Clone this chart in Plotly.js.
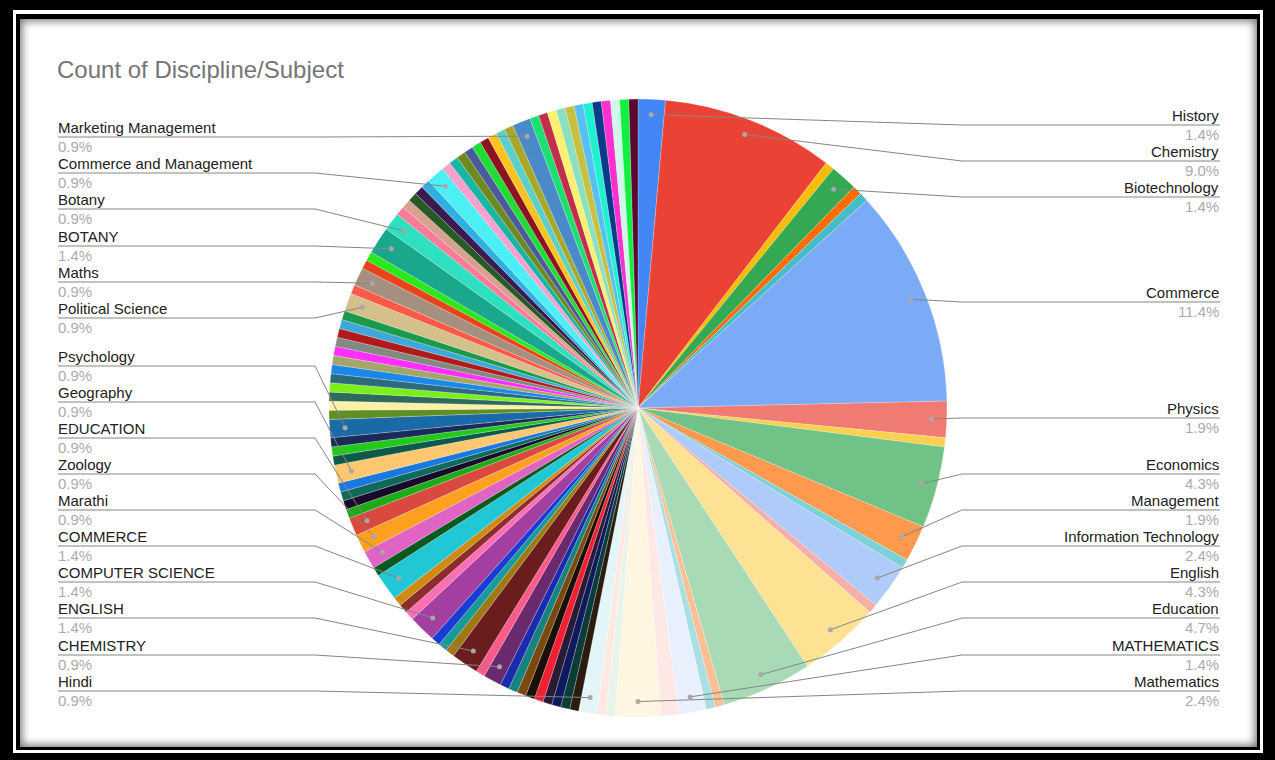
<!DOCTYPE html>
<html><head><meta charset="utf-8">
<script src="https://cdn.plot.ly/plotly-3.0.1.min.js"></script>
<style>
body{margin:0;background:#000;overflow:hidden;}
#f0{position:absolute;left:0;top:0;width:1275px;height:760px;background:#000;}
#f1{position:absolute;left:13px;top:10px;right:12px;bottom:7px;background:#fff;}
#f2{position:absolute;left:3px;top:4px;right:3px;bottom:3px;background:#000;}
#f3{position:absolute;left:4px;top:5px;right:3px;bottom:3px;background:#fff;box-shadow:inset 0 0 9px 2px rgba(0,0,0,0.55);}
#chart{position:absolute;left:0;top:0;width:1275px;height:760px;}
</style></head><body>
<div id="f0"><div id="f1"><div id="f2"><div id="f3"></div></div></div></div>
<div id="chart"></div>
<script>
// ---- data (clockwise from 12 o'clock) ----
const subjects = [
 "History","Chemistry","Subject 3","Biotechnology","Subject 5","Subject 6",
 "Commerce","Physics","Subject 9","Economics","Management","Subject 12",
 "Information Technology","Subject 14","English","Education","Subject 17","Subject 18",
 "MATHEMATICS","Subject 20","Mathematics","Subject 22","Subject 23","Hindi",
 "Subject 25","Subject 26","Subject 27","Subject 28","Subject 29","Subject 30","Subject 31","Subject 32","Subject 33",
 "CHEMISTRY","Subject 35","ENGLISH","Subject 37","Subject 38","Subject 39",
 "COMPUTER SCIENCE","Subject 41","Subject 42","Subject 43","COMMERCE","Subject 45",
 "Marathi","Zoology","EDUCATION","Subject 49","Subject 50","Subject 51","Subject 52",
 "Geography","Subject 54","Subject 55","Subject 56","Psychology",
 "Subject 58","Subject 59","Subject 60","Subject 61","Subject 62","Subject 63","Subject 64","Subject 65","Subject 66","Subject 67","Subject 68","Subject 69",
 "Political Science","Subject 71","Maths","Subject 73","Subject 74","BOTANY","Botany",
 "Subject 77","Subject 78","Subject 79","Subject 80","Subject 81","Commerce and Management",
 "Subject 83","Subject 84","Subject 85","Subject 86","Subject 87","Subject 88","Subject 89","Subject 90","Subject 91",
 "Marketing Management",
 "Subject 93","Subject 94","Subject 95","Subject 96","Subject 97","Subject 98","Subject 99","Subject 100","Subject 101","Subject 102","Subject 103","Subject 104"
];
const counts = [
 3,19,1,3,1,1,
 24,4,1,9,4,1,
 5,1,9,10,1,1,
 3,2,5,1,1,2,
 1,1,1,1,1,1,1,1,1,
 2,1,3,1,1,1,
 3,1,1,1,3,1,
 2,2,2,1,1,1,1,
 2,1,1,1,2,
 1,1,1,1,1,1,1,1,1,1,1,1,
 2,1,2,1,1,3,2,
 1,1,1,1,1,2,
 1,1,1,1,1,1,1,1,1,
 2,
 1,1,1,1,1,1,1,1,1,1,1,1
];
const sliceColors = [
 "#4285f4","#ea4335","#fbbc04","#34a853","#ff6d01","#46bdc6",
 "#7baaf7","#ef7b72","#fcd04f","#71c287","#ff994d","#7ed1d7",
 "#aecbfa","#f6aea9","#fde293","#a8dab5","#ffbf94","#a9dfe3",
 "#e8effd","#fde8e6","#fff6e2","#e6f4ea","#fde9e2","#e4f5f8",
 "#2b1d0e","#0c3b3a","#0d1b5e","#2a1a35","#f41f33","#1b0f0a","#7a4a0c","#17837f","#1a2bb0",
 "#6b2a6e","#ff5a8c","#6b1d1d","#a07812","#199a9a","#1a3cd6",
 "#a23fa0","#ff6fb4","#8b2d2d","#cf8a12","#22c7d6","#0a5a20",
 "#e064c4","#ffa020","#d9493f","#1faa18","#1a0a2a","#0f6a5a","#1a78e0",
 "#ffc870","#0d5a4a","#22c81a","#1a2a5a","#1a6aa8",
 "#5f8f23","#fff0a8","#2d6a5c","#7af01a","#2e6a7e","#1a88e8","#a3a56a","#ff30ff","#808a80","#b01a1a","#40a8d8","#1a9a4a",
 "#d5bf8a","#ff5a48","#a59080","#e8431a","#2ae81a","#1aa88c","#2ee0c0",
 "#ff7c98","#d8a090","#275a25","#3a1a50","#30b0e0","#4cf0f4",
 "#ffa0d0","#1ab5a5","#6e8a1e","#4a5a9a","#1fdc36","#8c1420","#ffc21e","#5ad0c8","#a8a828",
 "#4a8ac8",
 "#1ae070","#c0304a","#fff070","#8ae0c0","#c8c040","#58c0f0","#20f0d0","#0a3a8a","#ff30d0","#d0f8e8","#10f040","#5a0a30"
];
const rightLabels = ["History","Chemistry","Biotechnology","Commerce","Physics","Economics","Management","Information Technology","English","Education","MATHEMATICS","Mathematics"];
const leftLabels = ["Marketing Management","Commerce and Management","Botany","BOTANY","Maths","Political Science","Psychology","Geography","EDUCATION","Zoology","Marathi","COMMERCE","COMPUTER SCIENCE","ENGLISH","CHEMISTRY","Hindi"];
const titleText = "Count of Discipline/Subject";

// ---- layout geometry (pixels) ----
const W = 1275, H = 760;
const CX = 638, CY = 408, R = 309;
const rightLineY = [125,161,197,302,418,474,510,546,582,618,655,691];
const leftLineY  = [137,173,209,246,282,318,366,402,438,474,510,546,582,618,655,691];
const rightElbowX = 962, rightEndX = 1220, leftElbowX = 315, leftEndX = 58;

const total = counts.reduce((a,b)=>a+b,0);
const cum = []; let acc = 0; counts.forEach(c=>{cum.push(acc); acc+=c;});
const px = x => x / W, py = y => 1 - y / H;
function dotPos(name){
  const i = subjects.indexOf(name);
  const th = (cum[i] + counts[i]/2) / total * 2 * Math.PI;
  return [CX + 0.95*R*Math.sin(th), CY - 0.95*R*Math.cos(th)];
}
function pct(name){ const i = subjects.indexOf(name); return (counts[i]/total*100).toFixed(1) + "%"; }

const shapes = [], annotations = [];
const FONT = "Liberation Sans, Arial, sans-serif";
function addLabel(name, ly, side){
  const [dx, dy] = dotPos(name);
  const ex = side === "r" ? rightElbowX : leftElbowX;
  const tx = side === "r" ? rightEndX : leftEndX;
  const textX = side === "r" ? tx + 1 : tx - 2;
  shapes.push({type:"path", xref:"paper", yref:"paper", layer:"above",
    path:`M${px(dx)},${py(dy)} L${px(ex)},${py(ly)} L${px(tx)},${py(ly)}`,
    line:{color:"#858585", width:1}});
  shapes.push({type:"circle", xref:"paper", yref:"paper", layer:"above",
    x0:px(dx-2.5), x1:px(dx+2.5), y0:py(dy+2.5), y1:py(dy-2.5),
    fillcolor:"#a8a8a8", line:{width:0}});
  const xa = side === "r" ? "right" : "left";
  annotations.push({xref:"paper", yref:"paper", x:px(textX), y:py(ly-9.5), xanchor:xa, yanchor:"middle",
    showarrow:false, text:name, font:{family:FONT, size:15, color:"#222222"}});
  annotations.push({xref:"paper", yref:"paper", x:px(textX), y:py(ly+9.5), xanchor:xa, yanchor:"middle",
    showarrow:false, text:pct(name), font:{family:FONT, size:15, color:"#ababab"}});
}
rightLabels.forEach((n,k)=>addLabel(n, rightLineY[k], "r"));
leftLabels.forEach((n,k)=>addLabel(n, leftLineY[k], "l"));

const trace = {
  type:"pie", labels:subjects, values:counts, sort:false, direction:"clockwise", rotation:0,
  marker:{colors:sliceColors, line:{color:"rgba(255,255,255,0.45)", width:0.5}},
  textinfo:"none", textposition:"none", hoverinfo:"label+percent", showlegend:false,
  domain:{x:[px(CX-R), px(CX+R)], y:[py(CY+R), py(CY-R)]}
};
const layout = {
  width:W, height:H, margin:{l:0,r:0,t:0,b:0},
  paper_bgcolor:"rgba(0,0,0,0)", plot_bgcolor:"rgba(0,0,0,0)",
  showlegend:false,
  title:{text:titleText, x:px(57), xanchor:"left", xref:"paper", y:py(70), yref:"paper", yanchor:"middle",
    font:{family:FONT, size:24, color:"#757575"}},
  shapes:shapes, annotations:annotations
};
Plotly.newPlot("chart", [trace], layout, {displayModeBar:false, staticPlot:true});
</script>
</body></html>
